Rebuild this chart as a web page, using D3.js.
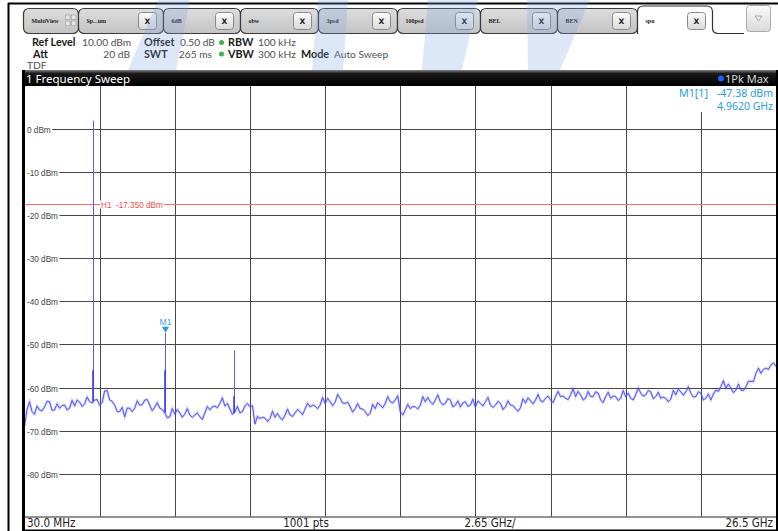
<!DOCTYPE html>
<html><head><meta charset="utf-8">
<script src="https://cdn.jsdelivr.net/npm/d3@7"></script>
<style>
body{margin:0;background:#fff;overflow:hidden}
svg{display:block}
</style>
</head><body>
<svg id="c" width="778" height="531"></svg>
<script>
// ---------------- data ----------------
const tabNames = ["MultiView", "Sp...um", "6dB", "obw", "3psd", "100psd", "BEL", "BEN", "spu"];
const activeTab = "spu";
const headerRow1 = [["Ref Level", "10.00 dBm"], ["Offset", "0.50 dB"], ["RBW", "100 kHz"]];
const headerRow2 = [["Att", "20 dB"], ["SWT", "265 ms"], ["VBW", "300 kHz"], ["Mode", "Auto Sweep"]];
const headerRow3 = ["TDF"];
const windowTitle = "1 Frequency Sweep";
const traceLabel = "1Pk Max";
const refLevelDbm = 10;
const bottomDbm = -90;
const freqStartGHz = 0.03;
const freqStopGHz = 26.5;
const yTickValues = [0, -10, -20, -30, -40, -50, -60, -70, -80];
const xDivisions = 10;
const footerLabels = ["30.0 MHz", "1001 pts", "2.65 GHz/", "26.5 GHz"];
// trace (dBm), equally spaced sweep points from start to stop
const traceDbm = [
-68.9,-65.1,-63.3,-65.6,-66.2,-64.3,-65.2,-65.4,-64.5,-63.2,
-63.3,-65.3,-65.2,-63.8,-64.8,-64.2,-64.1,-65.2,-64.8,-63.0,
-64.3,-62.9,-63.4,-64.4,-63.8,-62.2,-63.3,-63.6,-62.9,-62.8,
-64.1,-63.5,-60.8,-60.7,-62.9,-63.2,-64.1,-65.6,-65.6,-64.6,
-66.8,-64.8,-64.8,-65.6,-64.8,-63.1,-64.1,-64.0,-62.9,-62.8,
-64.1,-65.4,-64.6,-63.5,-64.8,-65.1,-65.9,-67.0,-66.8,-64.9,
-66.2,-65.1,-65.9,-66.9,-66.2,-64.9,-66.4,-66.9,-66.4,-65.9,
-66.8,-67.4,-65.9,-64.4,-65.2,-64.5,-64.3,-64.7,-63.7,-62.4,
-64.3,-63.7,-65.0,-66.2,-65.7,-64.4,-65.9,-65.6,-64.3,-63.7,
-64.5,-64.2,-68.5,-66.7,-67.2,-66.9,-67.1,-67.9,-67.2,-65.5,
-66.9,-66.0,-67.0,-67.5,-66.4,-65.0,-66.4,-66.7,-65.9,-65.1,
-65.6,-66.3,-65.0,-63.6,-64.5,-64.1,-64.3,-64.9,-64.1,-62.3,
-63.7,-62.5,-63.3,-64.2,-63.4,-61.6,-62.5,-63.6,-63.7,-63.4,
-64.5,-65.7,-64.9,-63.7,-64.9,-65.0,-65.6,-66.5,-66.0,-63.9,
-64.9,-63.5,-64.1,-64.7,-63.7,-62.1,-63.3,-63.6,-62.9,-61.9,
-65.6,-66.4,-65.2,-63.9,-64.9,-64.4,-64.5,-65.0,-64.1,-62.1,
-63.3,-62.3,-63.3,-63.9,-62.9,-61.7,-63.3,-64.0,-63.7,-62.6,
-62.9,-64.5,-64.1,-63.1,-64.5,-63.6,-63.3,-64.4,-64.1,-62.7,
-64.5,-63.1,-63.7,-64.3,-63.3,-62.3,-64.1,-64.6,-64.1,-63.2,
-63.7,-65.1,-64.5,-63.1,-64.1,-64.2,-64.9,-65.5,-64.7,-62.6,
-63.6,-62.4,-63.1,-63.8,-62.9,-61.6,-63.1,-63.3,-62.5,-62.0,
-62.9,-63.5,-62.1,-60.9,-62.1,-62.0,-62.5,-62.8,-61.7,-60.3,
-62.1,-60.9,-61.7,-62.9,-62.5,-60.9,-62.1,-62.1,-61.0,-61.3,
-62.9,-63.5,-62.1,-61.1,-62.5,-62.0,-62.1,-63.0,-62.5,-60.7,
-62.1,-61.3,-62.5,-62.9,-61.7,-60.1,-61.3,-62.0,-61.7,-60.7,
-61.0,-62.6,-62.1,-61.1,-62.5,-62.2,-62.5,-63.3,-62.7,-60.6,
-61.7,-60.4,-61.0,-61.8,-61.0,-59.8,-61.3,-62.2,-62.1,-61.0,
-61.3,-62.9,-62.5,-61.5,-62.9,-61.5,-60.6,-60.9,-59.8,-58.4,
-60.2,-59.2,-60.2,-61.2,-60.6,-59.2,-60.6,-60.7,-59.8,-58.5,
-58.6,-58.6,-56.7,-55.5,-56.7,-55.8,-55.5,-55.8,-54.7,-54.3,
-55.1];
const spikeFreqGHz = [2.46, 4.962, 7.40];
const spikePeakDbm = [2.0, -47.38, -51.4];
const spikeShoulderDbm = [-56, -56, -62];
const h1LineDbm = -17.35;
const h1Label = "H1  -17.350 dBm";
const markerName = "M1";
const markerFreqGHz = 4.962;
const markerDbm = -47.38;
const markerInfo = ["M1[1]", "-47.38 dBm", "4.9620 GHz"];

// ---------------- drawing ----------------
const svg = d3.select("#c");
const W = 778, H = 531;
const L = 24.5, R = 776, T = 86.1, B = 516.7;
const x = d3.scaleLinear().domain([freqStartGHz, freqStopGHz]).range([L, R]);
const y = d3.scaleLinear().domain([bottomDbm, refLevelDbm]).range([B, T]);
const defs = svg.append("defs");

svg.append("rect").attr("width", W).attr("height", H).attr("fill", "#fff");

function vGrad(id, stops) {
  const g = defs.append("linearGradient").attr("id", id).attr("x1", 0).attr("y1", 0).attr("x2", 0).attr("y2", 1);
  stops.forEach(s => g.append("stop").attr("offset", s[0]).attr("stop-color", s[1]));
}
vGrad("gTab", [["0%", "#dddddd"], ["100%", "#c3c3c3"]]);
vGrad("gBtn", [["0%", "#fbfbfb"], ["100%", "#d9d9d9"]]);
vGrad("gTitle", [["0%", "#808080"], ["22%", "#1a1a1a"], ["100%", "#000"]]);

// outer frame
svg.append("line").attr("x1", 8).attr("x2", W).attr("y1", 3.5).attr("y2", 3.5).attr("stroke", "#000").attr("stroke-width", 2);
svg.append("line").attr("x1", 8.5).attr("x2", 8.5).attr("y1", 3).attr("y2", H).attr("stroke", "#000").attr("stroke-width", 2);

// tabs
const tabEdges = [23, 78, 163, 240, 318, 397, 480, 557, 637, 712];
const tabG = svg.append("g");
function roundTab(x0, x1, y0, y1, r) {
  return `M${x0},${y1 - r} L${x0},${y0 + r} Q${x0},${y0} ${x0 + r},${y0} L${x1 - r},${y0} Q${x1},${y0} ${x1},${y0 + r} L${x1},${y1 - r} Q${x1},${y1} ${x1 - r},${y1} L${x0 + r},${y1} Q${x0},${y1} ${x0},${y1 - r} Z`;
}
tabNames.forEach((name, i) => {
  const x0 = tabEdges[i] + 0.5, x1 = tabEdges[i + 1] + 0.5;
  const active = name === activeTab;
  if (active) {
    tabG.append("path")
      .attr("d", `M${x0},34 L${x0},12 Q${x0},6 ${x0 + 6},6 L${x1 - 6},6 Q${x1},6 ${x1},12 L${x1},28 Q${x1},33.5 ${x1 + 6},33.5 L744,33.5`)
      .attr("fill", "#fff").attr("stroke", "#333").attr("stroke-width", 1.2);
  } else {
    tabG.append("path").attr("d", roundTab(x0, x1, 8.5, 33.5, 6))
      .attr("fill", "url(#gTab)").attr("stroke", "#3a3a3a").attr("stroke-width", 1.2);
  }
  tabG.append("text").attr("x", x0 + 8).attr("y", 23).text(name)
    .attr("font-family", "Liberation Serif").attr("font-weight", "bold").attr("font-size", 6).attr("fill", "#222");
  if (i === 0) {
    const ic = tabG.append("g").attr("transform", `translate(${x0 + 42},15)`);
    [[0,0],[6,0],[0,6],[6,6]].forEach(p => ic.append("rect").attr("x", p[0]).attr("y", p[1]).attr("width", 4.5).attr("height", 4.5)
      .attr("fill", "#e6e6e6").attr("stroke", "#aaa").attr("stroke-width", 0.8));
  } else {
    const bx = x1 - 25;
    tabG.append("rect").attr("x", bx).attr("y", 12.5).attr("width", 18).attr("height", 17).attr("rx", 3)
      .attr("fill", "url(#gBtn)").attr("stroke", "#8a8a8a");
    tabG.append("text").attr("x", bx + 9).attr("y", 24).attr("text-anchor", "middle").text("X")
      .attr("font-family", "DejaVu Sans").attr("font-weight", "bold").attr("font-size", 7.5).attr("fill", "#222");
  }
});
// dropdown button
svg.append("rect").attr("x", 746.5).attr("y", 5.5).attr("width", 24).attr("height", 26).attr("rx", 3)
  .attr("fill", "url(#gBtn)").attr("stroke", "#aaa");
svg.append("path").attr("d", "M755,16 L762,16 L758.5,21 Z").attr("fill", "none").attr("stroke", "#999").attr("stroke-width", 0.8);

// header text
const hdr = svg.append("g").attr("font-family", "Lato, Noto Sans");
function htxt(xp, yp, t, bold, anchor) {
  hdr.append("text").attr("x", xp).attr("y", yp).text(t)
    .attr("font-size", bold ? 10.8 : 10.2)
    .attr("fill", bold ? "#1a1a1a" : "#505050").attr("font-weight", bold ? "bold" : "normal")
    .attr("text-anchor", anchor || "start");
}
htxt(32, 46, headerRow1[0][0], true);  htxt(82, 46, headerRow1[0][1]);
htxt(144, 46, headerRow1[1][0], true); htxt(180, 46, headerRow1[1][1]);
htxt(228, 46, headerRow1[2][0], true); htxt(258, 46, headerRow1[2][1]);
htxt(33, 57.5, headerRow2[0][0], true); htxt(130, 57.5, headerRow2[0][1], false, "end");
htxt(144, 57.5, headerRow2[1][0], true); htxt(212, 57.5, headerRow2[1][1], false, "end");
htxt(228, 57.5, headerRow2[2][0], true); htxt(258, 57.5, headerRow2[2][1]);
htxt(301, 57.5, headerRow2[3][0], true); htxt(334, 57.5, headerRow2[3][1]);
htxt(27, 68.8, headerRow3[0]);
[42.5, 54].forEach(cy => hdr.append("circle").attr("cx", 221.5).attr("cy", cy).attr("r", 2.5).attr("fill", "#3cb44b"));

// plot background
svg.append("rect").attr("x", L).attr("y", T).attr("width", R - L).attr("height", B - T).attr("fill", "#fff");

// grid
const grid = svg.append("g").attr("stroke", "#464646").attr("stroke-width", 1);
for (let k = 1; k < xDivisions; k++) {
  const f = freqStartGHz + k * (freqStopGHz - freqStartGHz) / xDivisions;
  const xp = Math.round(x(f)) + 0.5;
  grid.append("line").attr("x1", xp).attr("x2", xp).attr("y1", T).attr("y2", B);
}
yTickValues.forEach(v => {
  const yp = Math.round(y(v)) + 0.5;
  grid.append("line").attr("x1", L).attr("x2", R).attr("y1", yp).attr("y2", yp);
});
// y labels
const ylab = svg.append("g").attr("font-family", "Liberation Sans").attr("font-size", 8.2).attr("fill", "#444");
yTickValues.forEach(v => {
  const yp = Math.round(y(v)) + 0.5;
  const gl = ylab.append("g");
  const bg = gl.append("rect").attr("x", 24).attr("y", yp - 4).attr("height", 8).attr("fill", "#fff");
  const t = gl.append("text").attr("x", 27).attr("y", yp + 3).text(v + " dBm");
  bg.attr("width", t.node().getComputedTextLength() + 4.5);
});

// H1 line
const yh = Math.round(y(h1LineDbm)) + 0.5;
svg.append("line").attr("x1", L).attr("x2", R).attr("y1", yh).attr("y2", yh).attr("stroke", "#ff6a6a").attr("stroke-width", 1);
const h1g = svg.append("g");
const h1bg = h1g.append("rect").attr("x", 100).attr("y", yh - 4).attr("height", 8).attr("fill", "#fff");
const h1t = h1g.append("text").attr("x", 101).attr("y", yh + 3).text(h1Label)
  .attr("font-family", "Liberation Sans").attr("font-size", 8.2).attr("fill", "#ff4a4a").style("white-space", "pre");
h1bg.attr("width", h1t.node().getComputedTextLength() + 2);

// trace
const n = traceDbm.length;
const pts = traceDbm.map((v, i) => [freqStartGHz + i * (freqStopGHz - freqStartGHz) / (n - 1), v]);
const line = d3.line().x(d => x(d[0])).y(d => y(d[1]));
const tg = svg.append("g");
tg.append("path").attr("d", line(pts)).attr("fill", "none").attr("stroke", "rgba(110,110,255,0.35)").attr("stroke-width", 2.4);
tg.append("path").attr("d", line(pts)).attr("fill", "none").attr("stroke", "#3c3cf5").attr("stroke-width", 0.8);
// spikes
function baseAt(f) {
  const idx = (f - freqStartGHz) / (freqStopGHz - freqStartGHz) * (n - 1);
  const i0 = Math.floor(idx), i1 = Math.min(n - 1, i0 + 1), t = idx - i0;
  return traceDbm[i0] * (1 - t) + traceDbm[i1] * t;
}
spikeFreqGHz.forEach((f, i) => {
  const xp = Math.round(x(f)) + 0.5;
  const b = baseAt(f);
  tg.append("line").attr("x1", xp).attr("x2", xp).attr("y1", y(b)).attr("y2", y(spikePeakDbm[i]))
    .attr("stroke", "#5a5aff").attr("stroke-width", 1);
  tg.append("line").attr("x1", xp - 0.5).attr("x2", xp - 0.5).attr("y1", y(b)).attr("y2", y(spikeShoulderDbm[i]))
    .attr("stroke", "#3c3cf5").attr("stroke-width", 1.6);
});

// marker M1
const mx = Math.round(x(markerFreqGHz)) + 0.5, my = y(markerDbm);
svg.append("path").attr("d", `M${mx - 3.5},${my - 6.5} L${mx + 3.5},${my - 6.5} L${mx},${my - 0.5} Z`).attr("fill", "#2a96dc");
svg.append("text").attr("x", mx).attr("y", my - 8.5).attr("text-anchor", "middle").text(markerName)
  .attr("font-family", "Liberation Sans").attr("font-size", 8.5).attr("fill", "#3aa0e0");

// marker info box
svg.append("rect").attr("x", 676).attr("y", T).attr("width", R - 676).attr("height", 26).attr("fill", "#fff");
const mi = svg.append("g").attr("font-family", "Noto Sans").attr("font-size", 10.5).attr("fill", "#2e9be0");
mi.append("text").attr("x", 679).attr("y", 97).text(markerInfo[0]).attr("textLength", 29).attr("lengthAdjust", "spacingAndGlyphs");
mi.append("text").attr("x", 773).attr("y", 97).attr("text-anchor", "end").text(markerInfo[1]);
mi.append("text").attr("x", 773).attr("y", 110).attr("text-anchor", "end").text(markerInfo[2]);

// title bar
svg.append("rect").attr("x", 22).attr("y", 70).attr("width", W - 22).attr("height", 16).attr("fill", "url(#gTitle)");
svg.append("text").attr("x", 26).attr("y", 82.5).text(windowTitle)
  .attr("font-family", "Noto Sans").attr("font-size", 11.5).attr("fill", "#fff");
svg.append("circle").attr("cx", 721).attr("cy", 78.5).attr("r", 3).attr("fill", "#1a5cff");
svg.append("text").attr("x", 725).attr("y", 83).text(traceLabel)
  .attr("font-family", "Noto Sans").attr("font-size", 11).attr("fill", "#d8d8d8");

// plot frame
svg.append("rect").attr("x", 22).attr("y", 70).attr("width", 3).attr("height", H - 70).attr("fill", "#000");
svg.append("rect").attr("x", 776).attr("y", 70).attr("width", 2).attr("height", H - 70).attr("fill", "#000");
// footer bar
svg.append("rect").attr("x", 25).attr("y", B).attr("width", 751).attr("height", 13).attr("fill", "#fff");
svg.append("line").attr("x1", 25).attr("x2", 776).attr("y1", B + 0.3).attr("y2", B + 0.3).attr("stroke", "#222").attr("stroke-width", 1);
svg.append("rect").attr("x", 22).attr("y", 529.5).attr("width", W - 22).attr("height", 1.5).attr("fill", "#000");
const ft = svg.append("g").attr("font-family", "Liberation Sans Narrow, DejaVu Sans Condensed").attr("font-size", 11.5).attr("fill", "#222");
ft.append("text").attr("x", 27).attr("y", 527).text(footerLabels[0]);
ft.append("text").attr("x", 306).attr("y", 527).attr("text-anchor", "middle").text(footerLabels[1]);
ft.append("text").attr("x", 490).attr("y", 527).attr("text-anchor", "middle").text(footerLabels[2]);
ft.append("text").attr("x", 773).attr("y", 527).attr("text-anchor", "end").text(footerLabels[3]);

// watermark (faint)
const wm = svg.append("g").attr("fill", "#7aa4e4").attr("opacity", 0.26);
const wmPolys = [
  [[158,0],[190,0],[176,70],[128,70]],
  [[318,0],[348,0],[343,70],[312,70]],
  [[428,0],[478,0],[462,70],[422,70]],
  [[527,0],[590,0],[560,70],[528,70]]
];
wmPolys.forEach(p => wm.append("path").attr("d", "M" + p.map(q => q.join(",")).join("L") + "Z"));
</script>
</body></html>
